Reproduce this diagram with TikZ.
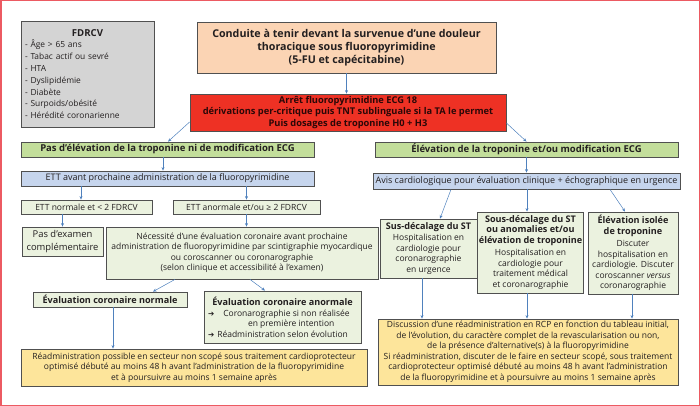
\documentclass[tikz,border=0pt]{standalone}
\usepackage{fontspec}
\setmainfont{Open Sans}
\newfontfamily\symfont{DejaVu Sans}
\usetikzlibrary{arrows.meta}
\definecolor{cframe}{HTML}{EC5A62}
\definecolor{cline}{HTML}{505050}
\definecolor{ctxt}{HTML}{231F20}
\definecolor{cgray}{HTML}{D4D4D4}
\definecolor{cpeach}{HTML}{FBD4B4}
\definecolor{cred}{HTML}{EE3124}
\definecolor{credtxt}{HTML}{2A0808}
\definecolor{cgreenbar}{HTML}{C3DE9B}
\definecolor{cgreen}{HTML}{EBF2DF}
\definecolor{cblue}{HTML}{C6D5ED}
\definecolor{cyellow}{HTML}{FDE59B}
\definecolor{carrow}{HTML}{4F81BD}
\newcommand{\myarr}{{\symfont\fontsize{7.5}{7.5}\selectfont ➔}}
\newcommand{\bt}[1]{\textbf{\fontsize{9.1}{10.8}\selectfont #1}}
\begin{document}
\begin{tikzpicture}[x=1pt,y=-1pt,
  box/.style={draw=cline, line width=0.8pt, inner sep=1pt, align=center, text=ctxt},
  small/.style={font=\fontsize{8.5}{10.5}\selectfont},
  arr/.style={draw=carrow, line width=0.5pt, -{Stealth[length=3.5pt,width=3pt]}}]
\useasboundingbox (0,0) rectangle (700,406);
\draw[draw=cframe, line width=1.5pt] (0.75,0.75) rectangle (699.25,405.25);

% FDRCV
\node[box, fill=cgray, minimum width=133pt, minimum height=106pt, text width=125pt, inner xsep=4pt, align=left, font=\fontsize{8.4}{11.8}\selectfont] (fdrcv) at (87.5,74)
 {\centering\textbf{\fontsize{9.6}{12.5}\selectfont FDRCV}\par\raggedright - Âge > 65 ans\\- Tabac actif ou sevré\\- HTA\\- Dyslipidémie\\- Diabète\\- Surpoids/obésité\\- Hérédité coronarienne};

% top
\node[box, fill=cpeach, minimum width=299pt, minimum height=51pt, font=\bfseries\fontsize{10.7}{13}\selectfont] (title) at (346.5,47.5)
 {Conduite à tenir devant la survenue d’une douleur\\thoracique sous fluoropyrimidine\\(5-FU et capécitabine)};
\node[box, fill=cred, text=credtxt, minimum width=316pt, minimum height=37pt, font=\bfseries\fontsize{9.3}{11.5}\selectfont] (red) at (348,112.5)
 {Arrêt fluoropyrimidine ECG 18\\dérivations per-critique puis TNT sublinguale si la TA le permet\\Puis dosages de troponine H0 + H3};

% green bars
\node[box, fill=cgreenbar, minimum width=293pt, minimum height=15pt, font=\bfseries\fontsize{9.5}{11}\selectfont] (greenL) at (167.5,149.5)
 {Pas d’élévation de la troponine ni de modification ECG};
\node[box, fill=cgreenbar, minimum width=303pt, minimum height=15pt, font=\bfseries\fontsize{9.5}{11}\selectfont] (greenR) at (526.5,149.5)
 {Élévation de la troponine et/ou modification ECG};

% blue bars
\node[box, fill=cblue, minimum width=293pt, minimum height=15pt, font=\fontsize{9}{10.5}\selectfont] (blueL) at (167.5,178.5)
 {ETT avant prochaine administration de la fluoropyrimidine};
\node[box, fill=cblue, minimum width=307pt, minimum height=16pt, font=\fontsize{9}{10.5}\selectfont] (blueR) at (526.5,181)
 {Avis cardiologique pour évaluation clinique + échographique en urgence};

% left branch
\node[box, fill=cgreen, minimum width=131pt, minimum height=14pt, small] (ettN) at (86.5,207)
 {ETT normale et < 2 FDRCV};
\node[box, fill=cgreen, minimum width=147pt, minimum height=14pt, small] (ettA) at (246.5,207)
 {ETT anormale et/ou ≥ 2 FDRCV};
\node[box, fill=cgreen, minimum width=81pt, minimum height=29pt, font=\fontsize{9.4}{12.5}\selectfont] (pas) at (62.5,241.5)
 {Pas d’examen\\complémentaire};
\node[box, fill=cgreen, minimum width=272pt, minimum height=52pt, small] (nec) at (242,253)
 {Nécessité d’une évaluation coronaire avant prochaine\\administration de fluoropyrimidine par scintigraphie myocardique\\ou coroscanner ou coronarographie\\(selon clinique et accessibilité à l’examen)};
\node[box, fill=cgreen, minimum width=154pt, minimum height=15pt, font=\bfseries\fontsize{9.1}{10.5}\selectfont] (evN) at (110,299.5)
 {Évaluation coronaire normale};
\node[box, fill=cgreen, minimum width=157pt, minimum height=52pt, small] (evA) at (282.5,317)
 {\bt{Évaluation coronaire anormale}\\[0.5pt]
  \makebox[153pt][l]{\hspace*{2pt}\myarr\hspace{9pt}Coronarographie si non réalisée}\\
  \makebox[153pt][l]{\hspace*{42pt}en première intention}\\
  \makebox[153pt][l]{\hspace*{2pt}\myarr\hspace{3pt}Réadministration selon évolution}};
\node[box, fill=cyellow, minimum width=346pt, minimum height=37pt, small] (yL) at (194,367.5)
 {Réadministration possible en secteur non scopé sous traitement cardioprotecteur\\optimisé débuté au moins 48 h avant l’administration de la fluoropyrimidine\\et à poursuivre au moins 1 semaine après};

% right branch
\node[box, fill=cgreen, minimum width=97pt, minimum height=59pt, small] (sus) at (428.5,248.5)
 {\bt{Sus-décalage du ST}\\[1pt]Hospitalisation en\\cardiologie pour\\coronarographie\\en urgence};
\node[box, fill=cgreen, minimum width=103pt, minimum height=81pt, small] (sous) at (530.5,252.5)
 {\bt{Sous-décalage du ST}\\\bt{ou anomalies et/ou}\\\bt{élévation de troponine}\\[2pt]Hospitalisation en\\cardiologie pour\\traitement médical\\et coronarographie};
\node[box, fill=cgreen, minimum width=90pt, minimum height=82pt, small] (elev) at (633,253)
 {\bt{Élévation isolée}\\\bt{de troponine}\\[2pt]Discuter\\hospitalisation en\\cardiologie. Discuter\\coroscanner \textit{versus}\\coronarographie};
\node[box, fill=cyellow, minimum width=300pt, minimum height=66pt, small] (yR) at (528,352)
 {Discussion d’une réadministration en RCP en fonction du tableau initial,\\de l’évolution, du caractère complet de la revascularisation ou non,\\de la présence d’alternative(s) à la fluoropyrimidine\\Si réadministration, discuter de le faire en secteur scopé, sous traitement\\cardioprotecteur optimisé débuté au moins 48 h avant l’administration\\de la fluoropyrimidine et à poursuivre au moins 1 semaine après};

% arrows
\draw[arr] (title.south) -- (title.south |- red.north);
\draw[arr] ([yshift=-9.5pt]red.west) -- ([xshift=0.5pt]greenL.north);
\draw[arr] ([yshift=-10.5pt]red.east) -- (greenR.north);
\draw[arr] ([xshift=-4.5pt]greenL.south) -- ([xshift=-4.5pt]blueL.north);
\draw[arr] (greenR.south) -- (greenR.south |- blueR.north);
\draw[arr] ([xshift=-5.5pt]ettN.north |- blueL.south) -- ([xshift=-5.5pt]ettN.north);
\draw[arr] (ettA.north |- blueL.south) -- (ettA.north);
\draw[arr] (pas.north |- ettN.south) -- (pas.north);
\draw[arr] (ettA.south) -- (ettA.south |- nec.north);
\draw[arr] ([xshift=-67pt]nec.south) -- ([xshift=43pt]evN.north);
\draw[arr] ([xshift=8pt]nec.south) -- ([xshift=-17.5pt]evA.north);
\draw[arr] ([xshift=3pt]evN.south) -- ([xshift=3pt]evN.south |- yL.north);
\draw[arr] ([xshift=-75.5pt]blueR.south) -- ([xshift=11.5pt]sus.north);
\draw[arr] ([xshift=-3.5pt]sous.north |- blueR.south) -- ([xshift=-3.5pt]sous.north);
\draw[arr] ([xshift=83.5pt]blueR.south) -- ([xshift=-8pt]elev.north);
\draw[arr] ([xshift=-6.5pt]sus.south) -- ([xshift=-6.5pt]sus.south |- yR.north);
\draw[arr] ([xshift=-3.5pt]sous.south) -- ([xshift=-3.5pt]sous.south |- yR.north);
\draw[arr] ([xshift=-1pt]elev.south) -- ([xshift=-1pt]elev.south |- yR.north);
\end{tikzpicture}
\end{document}
